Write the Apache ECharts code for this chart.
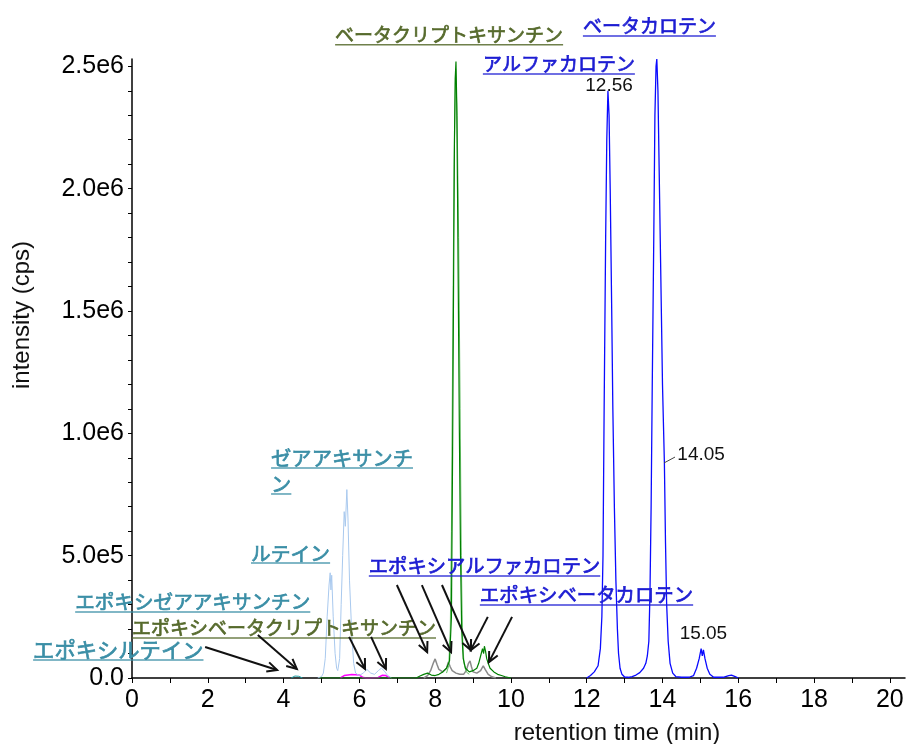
<!DOCTYPE html>
<html><head><meta charset="utf-8">
<script src="https://cdn.jsdelivr.net/npm/echarts@6/dist/echarts.min.js"></script>
<style>html,body{margin:0;padding:0;background:#fff}#c{width:908px;height:744px}</style>
</head><body><div id="c"></div>
<script>
// ---- data: [retention time (min), intensity (cps)] ----
const carotenesBlue = [[12.0,0],[12.1,1e4],[12.2,2.5e4],[12.3,5e4],[12.36,1.2e5],[12.4,2.5e5],[12.43,5e5],[12.46,1.1e6],[12.5,1.8e6],[12.53,2.2e6],[12.56,2.4e6],[12.59,2.3e6],[12.62,2.0e6],[12.66,1.5e6],[12.69,1.1e6],[12.73,7e5],[12.77,4e5],[12.81,2e5],[12.84,1e5],[12.88,4e4],[12.93,1.5e4],[13.0,4e3],
  [13.1,3e3],[13.2,6e3],[13.3,1.2e4],[13.4,2.2e4],[13.5,4e4],[13.56,6e4],[13.6,9e4],[13.64,1.5e5],[13.67,3.5e5],[13.7,7e5],[13.73,1.2e6],[13.77,1.8e6],[13.8,2.3e6],[13.83,2.5e6],[13.85,2.53e6],[13.88,2.4e6],[13.92,2.0e6],[13.96,1.6e6],[14.0,1.2e6],[14.05,8.8e5],[14.08,5.5e5],[14.11,3e5],[14.15,1.5e5],[14.2,6e4],[14.27,2e4],[14.35,6e3],[14.5,3e3],[14.7,3e3],
  [14.82,1e4],[14.9,4e4],[14.97,8e4],[15.02,1.2e5],[15.05,9e4],[15.08,1.15e5],[15.12,8e4],[15.18,4e4],[15.25,1.5e4],[15.35,3e3],[15.6,3e3],[15.75,1e4],[15.82,1.2e4],[15.92,6e3],[16.0,0]];
const cryptoxanthinDarkGreen = [[4.95,0],[5.0,4e3],[5.08,0],[7.5,0],[7.6,8e3],[7.7,1.5e4],[7.8,2e4],[7.9,1.2e4],[8.0,1e4],[8.1,1.5e4],[8.2,2.5e4],[8.3,4e4],[8.38,7e4],[8.43,2.5e5],[8.46,9e5],[8.49,1.7e6],[8.51,2.2e6],[8.53,2.45e6],[8.55,2.52e6],[8.57,2.35e6],[8.59,2.0e6],[8.61,1.6e6],[8.64,1.0e6],[8.67,5e5],[8.7,2e5],[8.74,8e4],[8.8,4e4],[8.9,2.5e4],[9.0,3e4],[9.1,4e4],[9.15,6e4],[9.2,9e4],[9.25,1.2e5],[9.28,1.0e5],[9.3,1.3e5],[9.33,1.1e5],[9.36,8e4],[9.4,6e4],[9.45,4e4],[9.55,2.5e4],[9.65,1.5e4],[9.75,1e4],[9.85,5e3],[10.0,0]];
const cryptoxanthinLightGreen = [[8.3,2e4],[8.36,5e4],[8.4,2e5],[8.43,6e5],[8.46,1.3e6],[8.5,2.1e6],[8.54,2.49e6],[8.58,2.3e6],[8.62,1.8e6],[8.66,1.1e6],[8.69,5e5],[8.72,1.8e5],[8.76,6e4],[8.82,2.5e4],[8.9,1.5e4]];
const epoxyGray = [[7.7,0],[7.8,1e4],[7.88,3e4],[7.95,6e4],[8.0,7.8e4],[8.05,5.5e4],[8.1,3.5e4],[8.2,2.5e4],[8.3,4e4],[8.35,6.5e4],[8.4,4.5e4],[8.45,3e4],[8.55,2e4],[8.65,1.5e4],[8.75,1.5e4],[8.82,3e4],[8.88,6e4],[8.92,7e4],[8.96,4.5e4],[9.0,2.5e4],[9.1,2e4],[9.2,3e4],[9.27,5e4],[9.32,3.5e4],[9.4,1.5e4],[9.5,5e3],[9.6,0]];
const xanthophyllLightBlue = [[4.9,0],[5.0,5e3],[5.05,2e4],[5.1,8e4],[5.15,2.5e5],[5.2,3.8e5],[5.23,4.3e5],[5.25,3.6e5],[5.27,4.2e5],[5.31,2.5e5],[5.36,1e5],[5.4,4e4],[5.43,3e4],[5.48,8e4],[5.52,3e5],[5.56,5e5],[5.6,6.8e5],[5.63,6.2e5],[5.67,7.7e5],[5.7,6.5e5],[5.74,4e5],[5.8,1.8e5],[5.85,6e4],[5.9,2e4],[6.0,1e4],[6.1,2e4],[6.2,3.5e4],[6.3,2e4],[6.4,1.5e4],[6.5,3e4],[6.58,4e4],[6.65,3e4],[6.75,1e4],[6.85,0]];
const epoxyMagenta = [[5.5,0],[5.55,5e3],[5.6,1e4],[5.65,8e3],[5.7,1.2e4],[5.75,1e4],[5.8,1.4e4],[5.85,1.1e4],[5.9,1.3e4],[5.95,9e3],[6.0,1.2e4],[6.05,6e3],[6.1,2e3],[6.2,0],[6.5,2e3],[6.55,8e3],[6.6,1.1e4],[6.65,9e3],[6.7,1e4],[6.75,4e3],[6.8,0]];
const epoxyTeal = [[4.2,0],[4.25,5e3],[4.3,8e3],[4.35,4e3],[4.4,7e3],[4.45,5e3],[4.5,0]];

const xTickValues = [0,1,2,3,4,5,6,7,8,9,10,11,12,13,14,15,16,17,18,19,20];
const xLabelValues = [0,2,4,6,8,10,12,14,16,18,20];
const yTickValues = [0,1e5,2e5,3e5,4e5,5e5,6e5,7e5,8e5,9e5,1e6,1.1e6,1.2e6,1.3e6,1.4e6,1.5e6,1.6e6,1.7e6,1.8e6,1.9e6,2e6,2.1e6,2.2e6,2.3e6,2.4e6,2.5e6];
const yLabelValues = [0,5e5,1e6,1.5e6,2e6,2.5e6];
const yLabelTexts = ['0.0','5.0e5','1.0e6','1.5e6','2.0e6','2.5e6'];

// annotations (data coordinates): [text, left x, center y, colour, font px]
const compoundLabels = [
  ['ベータクリプトキサンチン', 5.36, 2.629e6, '#566a2c', 19],
  ['ベータカロテン', 11.90, 2.665e6, '#1c1cd2', 19],
  ['アルファカロテン', 9.26, 2.51e6, '#1c1cd2', 19],
  ['ゼアアキサンチ', 3.67, 8.99e5, '#3a8ea6', 20.3],
  ['ン', 3.67, 7.93e5, '#3a8ea6', 20.3],
  ['ルテイン', 3.14, 5.11e5, '#3a8ea6', 19.8],
  ['エポキシゼアアキサンチン', -1.50, 3.11e5, '#3a8ea6', 19.6],
  ['エポキシベータクリプトキサンチン', 0.0, 2.04e5, '#566a2c', 19],
  ['エポキシルテイン', -2.61, 1.14e5, '#3a8ea6', 21.3],
  ['エポキシアルファカロテン', 6.25, 4.58e5, '#1c1cd2', 19.3],
  ['エポキシベータカロテン', 9.18, 3.39e5, '#1c1cd2', 19.4]
];
// peak retention-time labels: [text, center x, center y]
const rtLabels = [['12.56', 12.59, 2.42e6], ['14.05', 15.02, 9.12e5], ['15.05', 15.08, 1.8e5]];
const rtLeader = [[14.04, 8.79e5], [14.33, 9.03e5]];
// arrows: [from x, from y, to x, to y]
const arrows = [
  [1.93, 1.27e5, 3.83, 3.3e4],
  [3.32, 1.76e5, 4.35, 3.7e4],
  [5.73, 1.68e5, 6.15, 3.7e4],
  [6.31, 1.68e5, 6.70, 3.7e4],
  [6.99, 3.8e5, 7.79, 1.06e5],
  [7.65, 3.8e5, 8.42, 1.06e5],
  [8.18, 3.8e5, 8.94, 1.14e5],
  [9.39, 2.5e5, 8.94, 1.14e5],
  [10.03, 2.5e5, 9.42, 6.5e4]
];

const AX_FONT = '"Liberation Sans", Arial, sans-serif';
const JP_FONT = '"Noto Sans CJK JP", sans-serif';

const chart = echarts.init(document.getElementById('c'), null, {renderer: 'canvas'});

function trace(data, color, width) {
  return {type: 'line', data: data, showSymbol: false, symbol: 'none', smooth: false,
    lineStyle: {color: color, width: width || 1}, itemStyle: {color: color}, animation: false, z: 2};
}

chart.setOption({
  animation: false,
  backgroundColor: '#ffffff',
  grid: {left: 132, right: 3, top: 59, bottom: 66, containLabel: false},
  xAxis: {
    type: 'value', min: 0, max: 20.4,
    axisLine: {show: true, onZero: false, lineStyle: {color: '#000', width: 1.5}},
    axisTick: {show: true, inside: false, length: 5, customValues: xTickValues, lineStyle: {color: '#000', width: 1}},
    axisLabel: {show: true, customValues: xLabelValues, margin: 10, color: '#000', fontSize: 25, fontFamily: AX_FONT},
    splitLine: {show: false}
  },
  yAxis: {
    type: 'value', min: 0, max: 2.53e6,
    axisLine: {show: true, onZero: false, lineStyle: {color: '#000', width: 1.5}},
    axisTick: {show: true, inside: false, length: 4, customValues: yTickValues, lineStyle: {color: '#000', width: 1}},
    axisLabel: {show: true, customValues: yLabelValues, margin: 8, color: '#000', fontSize: 25, fontFamily: AX_FONT,
      formatter: function (v) { const i = yLabelValues.indexOf(v); return i >= 0 ? yLabelTexts[i] : ''; }},
    splitLine: {show: false}
  },
  series: [
    trace(epoxyTeal, '#1a9aa0'),
    trace(epoxyMagenta, '#ff00ff', 1.5),
    trace(xanthophyllLightBlue, '#a9c9ee'),
    trace(epoxyGray, '#8a8a8a', 1.5),
    trace(cryptoxanthinLightGreen, '#6abf6a'),
    trace(cryptoxanthinDarkGreen, '#008000', 1.2),
    trace(carotenesBlue, '#0a0aff', 1.3)
  ]
});

const meas = document.createElement('canvas').getContext('2d');
function textWidth(t, font) { meas.font = font; return meas.measureText(t).width; }
function P(x, y) { return chart.convertToPixel({gridIndex: 0}, [x, y]); }

const g = [];
compoundLabels.forEach(function (l) {
  const font = l[4] + 'px ' + JP_FONT;
  const p = P(l[1], l[2]);
  const w = textWidth(l[0], font);
  g.push({type: 'text', x: p[0], y: p[1], z: 10, silent: true,
    style: {text: l[0], fill: l[3], stroke: l[3], lineWidth: 0.7, font: font, align: 'left', verticalAlign: 'middle'}});
  g.push({type: 'line', z: 10, silent: true, shape: {x1: p[0], y1: p[1] + 10, x2: p[0] + w, y2: p[1] + 10},
    style: {stroke: l[3], lineWidth: 1.5, opacity: 0.85}});
});
const rtFont = '19px ' + AX_FONT;
rtLabels.forEach(function (l) {
  const p = P(l[1], l[2]);
  g.push({type: 'text', x: p[0], y: p[1], z: 10, silent: true,
    style: {text: l[0], fill: '#111', font: rtFont, align: 'center', verticalAlign: 'middle'}});
});
(function () {
  const a = P(rtLeader[0][0], rtLeader[0][1]), b = P(rtLeader[1][0], rtLeader[1][1]);
  g.push({type: 'line', z: 10, silent: true, shape: {x1: a[0], y1: a[1], x2: b[0], y2: b[1]}, style: {stroke: '#444', lineWidth: 1}});
})();
arrows.forEach(function (ar) {
  const a = P(ar[0], ar[1]), b = P(ar[2], ar[3]);
  const ang = Math.atan2(b[1] - a[1], b[0] - a[0]);
  const L = 11, spread = 0.45;
  const h1 = [b[0] - L * Math.cos(ang - spread), b[1] - L * Math.sin(ang - spread)];
  const h2 = [b[0] - L * Math.cos(ang + spread), b[1] - L * Math.sin(ang + spread)];
  g.push({type: 'line', z: 11, silent: true, shape: {x1: a[0], y1: a[1], x2: b[0], y2: b[1]}, style: {stroke: '#111', lineWidth: 2}});
  g.push({type: 'polyline', z: 11, silent: true, shape: {points: [h1, b, h2]}, style: {stroke: '#111', lineWidth: 2, fill: null}});
});
// axis titles
g.push({type: 'text', x: 617, y: 733, silent: true,
  style: {text: 'retention time (min)', fill: '#111', font: '24px ' + AX_FONT, align: 'center', verticalAlign: 'middle'}});
g.push({type: 'text', x: 22, y: 315, rotation: Math.PI / 2, silent: true,
  style: {text: 'intensity (cps)', fill: '#111', font: '24px ' + AX_FONT, align: 'center', verticalAlign: 'middle'}});
chart.setOption({graphic: g});
</script>
</body></html>
